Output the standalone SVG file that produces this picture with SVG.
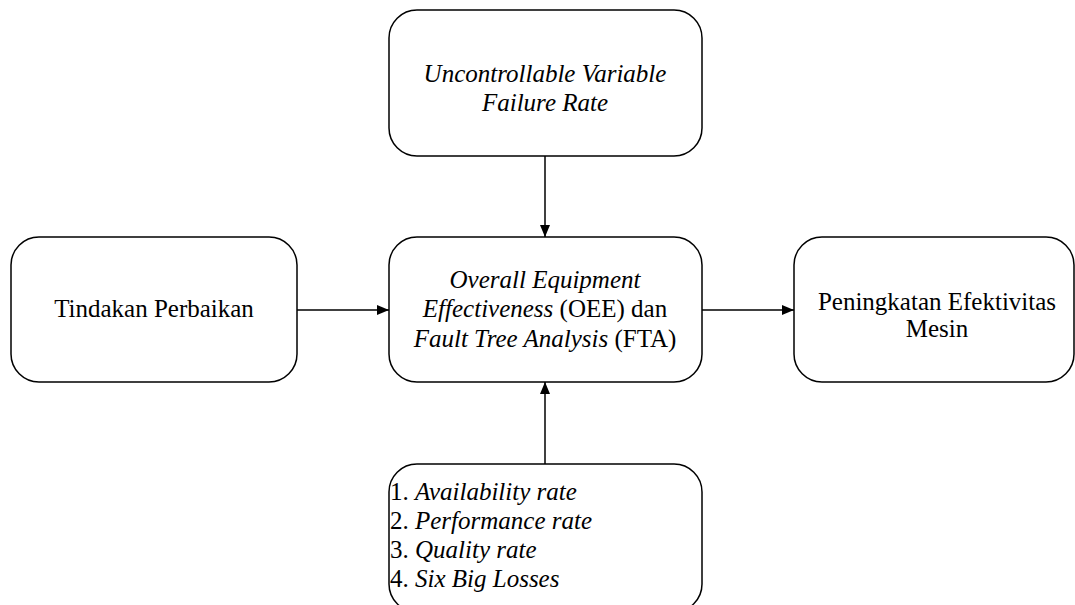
<svg xmlns="http://www.w3.org/2000/svg" width="1075" height="605" viewBox="0 0 1075 605">
<style>
.box{fill:#fff;stroke:#000;stroke-width:1.5}
.t{font-family:"Liberation Serif","Times New Roman",serif;font-size:25px;fill:#000}
.c{text-anchor:middle}
.i{font-style:italic}
.conn{stroke:#000;stroke-width:1.5;fill:none}
</style>
<defs>
<marker id="ah" markerWidth="12" markerHeight="12" refX="12" refY="6" orient="auto" markerUnits="userSpaceOnUse">
<path d="M0,1 L12,6 L0,11 Z" fill="#000"/>
</marker>
</defs>
<rect width="1075" height="605" fill="#fff"/>
<g id="connectors">
<line class="conn" x1="545" y1="156" x2="545" y2="237" marker-end="url(#ah)"/>
<line class="conn" x1="297" y1="310" x2="389" y2="310" marker-end="url(#ah)"/>
<line class="conn" x1="702" y1="310" x2="794" y2="310" marker-end="url(#ah)"/>
<line class="conn" x1="545" y1="464" x2="545" y2="382" marker-end="url(#ah)"/>
</g>
<g id="node-uncontrollable">
<rect class="box" x="389" y="10" width="313" height="146" rx="28" ry="28"/>
<text class="t c i" x="545" y="82">Uncontrollable Variable</text>
<text class="t c i" x="545" y="111">Failure Rate</text>
</g>
<g id="node-tindakan">
<rect class="box" x="11" y="237" width="286" height="145" rx="28" ry="28"/>
<text class="t c" x="154" y="317">Tindakan Perbaikan</text>
</g>
<g id="node-oee">
<rect class="box" x="389" y="237" width="313" height="145" rx="28" ry="28"/>
<text class="t c" x="545" y="288"><tspan class="i">Overall Equipment</tspan></text>
<text class="t c" x="545" y="317"><tspan class="i">Effectiveness</tspan> (OEE) dan</text>
<text class="t c" x="545" y="347"><tspan class="i">Fault Tree Analysis</tspan> (FTA)</text>
</g>
<g id="node-peningkatan">
<rect class="box" x="794" y="237" width="280" height="145" rx="28" ry="28"/>
<text class="t c" x="937" y="310">Peningkatan Efektivitas</text>
<text class="t c" x="937" y="337">Mesin</text>
</g>
<g id="node-list">
<rect class="box" x="389" y="464" width="313" height="148" rx="28" ry="28"/>
<text class="t" x="390" y="500">1. <tspan class="i">Availability rate</tspan></text>
<text class="t" x="390" y="529">2. <tspan class="i">Performance rate</tspan></text>
<text class="t" x="390" y="558">3. <tspan class="i">Quality rate</tspan></text>
<text class="t" x="390" y="587">4. <tspan class="i">Six Big Losses</tspan></text>
</g>
</svg>
